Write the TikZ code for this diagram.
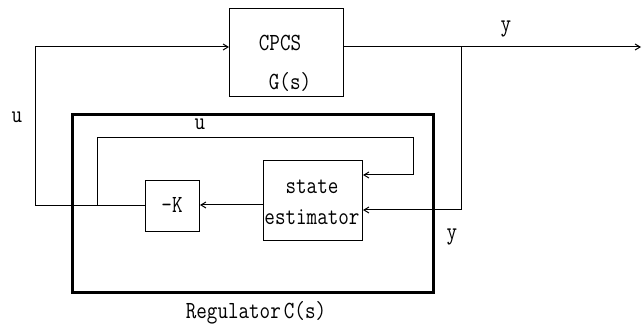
\documentclass[tikz,border=0pt]{standalone}
\usetikzlibrary{arrows.meta}
\newcommand\tallt[1]{\scalebox{1}[1.2]{#1}}
\begin{document}
\begin{tikzpicture}[x=1pt,y=-1pt,
  blk/.style={draw,line width=1pt,inner sep=0pt,anchor=north west},
  wire/.style={line width=1pt},
  arr/.style={wire,-{Straight Barb[length=5pt,width=6pt]}},
  lbl/.style={font=\fontsize{20.5}{22}\ttfamily,inner sep=0pt}]
\useasboundingbox (0,0) rectangle (643,326);
% boxes
\node[blk,minimum width=114pt,minimum height=88pt] (plant) at (229,8) {};
\node[lbl] at (280,43) {\tallt{CPCS}};
\node[lbl] at (290,82) {\tallt{G(s)}};
\node[blk,minimum width=54pt,minimum height=51pt] (gain) at (145,180) {};
\node[lbl] at (172,205) {\tallt{-K}};
\node[blk,minimum width=99pt,minimum height=80pt] (est) at (263,160) {};
\node[lbl] at (312,187) {\tallt{state}};
\node[lbl] at (312,217) {\tallt{estimator}};
\draw[line width=3pt] (72,115) rectangle (433,292);
\node[lbl] (reg) at (256,313) {\tallt{Regulator\hspace{0.15em}C(s)}};
% coordinates
\coordinate (ul) at (35,206);
\coordinate (ut) at (35,47);
\coordinate (yb) at (461,47);
\coordinate (yd) at (461,210);
\coordinate (yout) at (641,47);
\coordinate (iu) at (97,206);
\coordinate (it) at (97,138);
\coordinate (ir) at (413,138);
\coordinate (ird) at (413,175);
% wires
\draw[arr] (gain.west |- ul) -- (ul) -- (ut) -- (plant.west |- ut);
\draw[arr] (plant.east |- yb) -- (yout);
\draw[arr] (yb) -- (yd) -- (est.east |- yd);
\draw[arr] (iu) -- (it) -- (ir) -- (ird) -- (est.east |- ird);
\draw[arr] (est.west |- 0,205) -- (gain.east |- 0,205);
% labels
\node[lbl] at (506,29) {\tallt{y}};
\node[lbl] at (17,117) {\tallt{u}};
\node[lbl] at (200,124) {\tallt{u}};
\node[lbl] at (452,237) {\tallt{y}};
\end{tikzpicture}
\end{document}
